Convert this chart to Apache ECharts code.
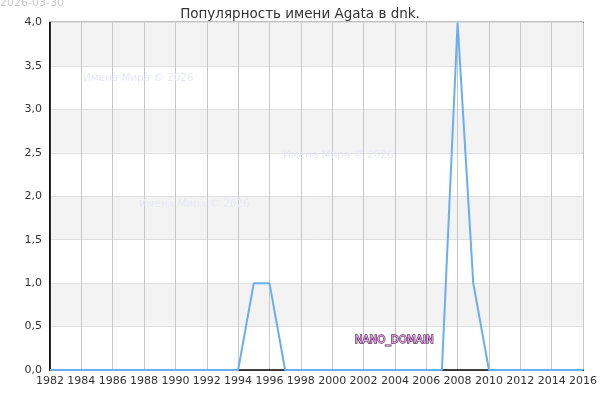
<!DOCTYPE html>
<html><head><meta charset="utf-8">
<script src="https://cdn.jsdelivr.net/npm/echarts@6/dist/echarts.min.js"></script>
<style>html,body{margin:0;padding:0;background:#fff}#c{width:600px;height:400px}</style>
</head><body><div id="c"></div>
<script>
const years = [1982,1983,1984,1985,1986,1987,1988,1989,1990,1991,1992,1993,1994,1995,1996,1997,1998,1999,2000,2001,2002,2003,2004,2005,2006,2007,2008,2009,2010,2011,2012,2013,2014,2015,2016];
const counts = [0,0,0,0,0,0,0,0,0,0,0,0,0,1,1,0,0,0,0,0,0,0,0,0,0,0,4,1,0,0,0,0,0,0,0];
const titleText = 'Популярность имени Agata в dnk.';
const dateText = '2026-03-30';
const watermark = 'Имена Мира © 2026';
const brand = 'NANO_DOMAIN';

const chart = echarts.init(document.getElementById('c'), null, {renderer:'canvas'});
const font = 'DejaVu Sans';
chart.setOption({
  animation:false,
  textStyle:{fontFamily:font},
  title:{text:titleText,left:'center',top:2,textStyle:{fontSize:13.5,fontWeight:'normal',color:'#333',fontFamily:font}},
  grid:{left:50,right:15,top:22.5,bottom:30,show:true,borderColor:'#000',borderWidth:1.5,backgroundColor:'transparent'},
  xAxis:{type:'value',min:1982,max:2016,interval:2,
    axisLine:{show:true,lineStyle:{color:'#000',width:1.5}},
    axisTick:{show:false},
    axisLabel:{color:'#333',fontSize:11,fontFamily:font,margin:6,showMinLabel:true,showMaxLabel:true,hideOverlap:false,formatter:v=>String(v)},
    splitLine:{show:true,lineStyle:{color:'#c8c8c8',width:1}}},
  yAxis:{type:'value',min:0,max:4,interval:0.5,
    axisLine:{show:true,lineStyle:{color:'#000',width:1.5}},
    axisTick:{show:false},
    axisLabel:{color:'#333',fontSize:11,fontFamily:font,margin:8,formatter:v=>v.toFixed(1).replace('.',',')},
    splitLine:{show:true,lineStyle:{color:'#e0e0e0',width:1}},
    splitArea:{show:true,areaStyle:{color:['#ffffff','#f3f3f3']}}},
  graphic:[
    {type:'text',left:0,top:-2,style:{text:dateText,fill:'#c8c8c8',font:'11px '+font}},
    {type:'text',left:83,top:73,z:1,style:{text:watermark,fill:'#e8e8f8',font:'10.4px '+font}},
    {type:'text',left:283,top:150,z:1,style:{text:watermark,fill:'#e8e8f8',font:'10.4px '+font}},
    {type:'text',left:139,top:199,z:1,style:{text:watermark,fill:'#e8e8f8',font:'10.4px '+font}},
    {type:'text',left:354,top:335,z:10,style:{text:brand,fill:'#dcb8dc',stroke:'#6b2a6b',lineWidth:1.3,font:'10.4px '+font}}
  ],
  series:[{type:'line',data:years.map((y,i)=>[y,counts[i]]),showSymbol:false,clip:false,z:5,
    lineStyle:{color:'#6aaef2',width:2},itemStyle:{color:'#6aaef2'}}]
});
</script></body></html>
